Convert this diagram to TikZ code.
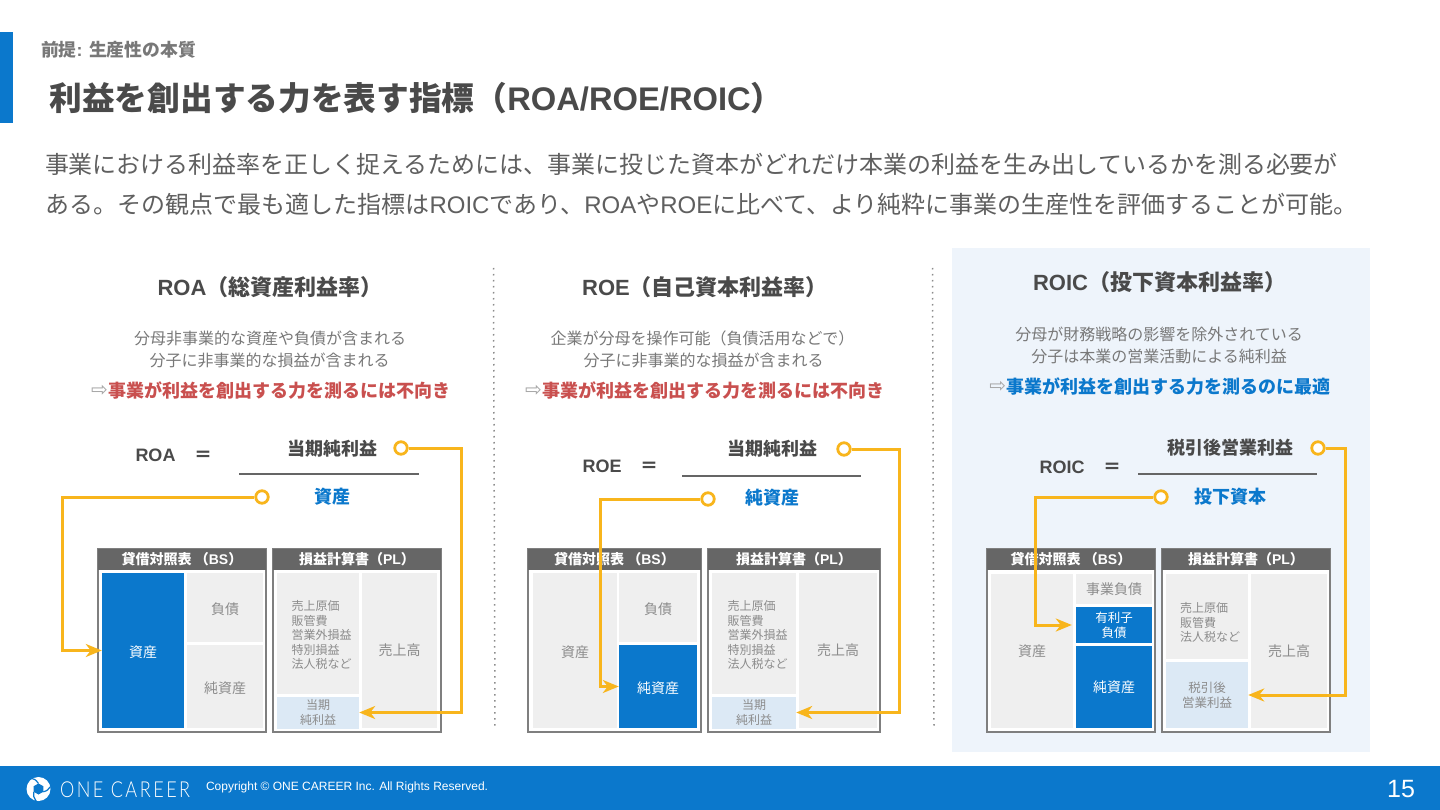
\documentclass[tikz,border=0pt]{standalone}
\usepackage{fontspec}
\usetikzlibrary{arrows.meta}
\setmainfont{Liberation Sans}
\newfontfamily\cjk{Noto Sans CJK JP}
\newfontfamily\arrowfont{DejaVu Sans}
\newfontfamily\logofont[LetterSpace=11.4,FakeStretch=0.82]{Lato Light}
\newfontfamily\copyfont{Liberation Sans}
\newcommand\J[1]{{\cjk #1}}
\newcommand\Lat[1]{{\rmfamily\bfseries #1}}
\newcommand\fs[2]{\fontsize{#1}{#2}\selectfont}
% dx (box widening, moves text right by half), dy (moves text down by half), lines
\newcommand\linesL[3]{\hspace*{#1}\raisebox{0pt}[\dimexpr\height+#2\relax][\depth]{\begin{tabular}{@{}l@{}}#3\end{tabular}}}
\newcommand\linesC[2]{\raisebox{0pt}[\dimexpr\height+#1\relax][\depth]{\begin{tabular}{@{}c@{}}#2\end{tabular}}}
\definecolor{brand}{HTML}{0B78CC}
\definecolor{panelbg}{HTML}{EEF4FB}
\definecolor{darktxt}{HTML}{4A4A4A}
\definecolor{bodytxt}{HTML}{5F5F5F}
\definecolor{subtxt}{HTML}{787878}
\definecolor{celltxt}{HTML}{8C8C8C}
\definecolor{cellbg}{HTML}{EFEFEF}
\definecolor{hlbg}{HTML}{DCE9F5}
\definecolor{hdrbg}{HTML}{666666}
\definecolor{framec}{HTML}{7F7F7F}
\definecolor{conn}{HTML}{F8B51C}
\definecolor{redtxt}{HTML}{C9504F}
\tikzset{
  txt/.style={inner sep=0pt,outer sep=0pt},
  subline/.style={txt,text=subtxt,font=\fs{16}{19}},
  heading/.style={txt,text=darktxt,font=\fs{22}{26}\bfseries},
  verdict/.style={txt,anchor=west,font=\fs{18}{22}\bfseries},
  smallarrow/.style={txt,anchor=east,text=black!35,font=\fs{20}{22}\arrowfont},
  term/.style={txt,text=darktxt,font=\fs{18}{22}\bfseries},
  termblue/.style={txt,text=brand,font=\fs{18}{22}\bfseries},
  fracline/.style={draw=darktxt!85,line width=1.3pt},
  ringnode/.style={circle,draw=conn,line width=2.8pt,minimum size=12.5pt,inner sep=0pt,fill=white},
  connector/.style={draw=conn,line width=3pt,line join=miter,-{Stealth[length=16pt,width=13pt,inset=5pt]}},
  frame/.style={draw=framec,line width=1.3pt,fill=white},
  header/.style={fill=hdrbg,text=white,font=\fs{14}{17}\bfseries,inner sep=0pt},
  cellgray/.style={fill=cellbg,text=celltxt},
  cellblue/.style={fill=brand,text=white},
  celllight/.style={fill=hlbg,text=celltxt},
  sepline/.style={draw=black!45,line width=1.5pt,dash pattern=on 1.5pt off 4.5pt},
}
% name, x1,y1,x2,y2, style, font size, leading, text
\newcommand\cellbox[9]{%
  \pgfmathsetmacro\cw{#4-#2}\pgfmathsetmacro\ch{#5-#3}%
  \pgfmathsetmacro\cx{(#2+#4)/2}\pgfmathsetmacro\cy{(#3+#5)/2}%
  \node[#6,minimum width=\cw pt,minimum height=\ch pt,inner sep=0pt,font=\fs{#7}{#8}] (#1) at (\cx,\cy) {\J{#9}};}
\newcommand\hdrbox[6]{%
  \pgfmathsetmacro\cw{#4-#2}\pgfmathsetmacro\ch{#5-#3}%
  \pgfmathsetmacro\cx{(#2+#4)/2}\pgfmathsetmacro\cy{(#3+#5)/2}%
  \node[header,minimum width=\cw pt,minimum height=\ch pt] (#1) at (\cx,\cy) {\J{#6}};}
\begin{document}
\begin{tikzpicture}[x=1pt,y=-1pt]
\useasboundingbox (0,0) rectangle (1440,810);
\fill[white] (0,0) rectangle (1440,810);
% slide furniture
\fill[brand] (0,32) rectangle (13,123);
\fill[brand] (0,766) rectangle (1440,810);
\fill[panelbg] (952,248) rectangle (1370,752);
\node[txt,anchor=west,text=subtxt,font=\fs{17.8}{20}\bfseries] (kicker) at (41,50) {\J{前提}: \J{生産性の本質}};
\node[txt,anchor=west,text=darktxt,font=\fs{32.7}{38}\bfseries] (title) at (49.5,98) {\J{利益を創出する力を表す指標（}ROA/ROE/ROIC\J{）}};
\node[txt,anchor=west,text=bodytxt,font=\fs{23.97}{28}] (lead1) at (45,164) {\J{事業における利益率を正しく捉えるためには、事業に投じた資本がどれだけ本業の利益を生み出しているかを測る必要が}};
\node[txt,anchor=west,text=bodytxt,font=\fs{24}{28}] (lead2) at (45.5,204) {\J{ある。その観点で最も適した指標は}ROIC\J{であり、}ROA\J{や}ROE\J{に比べて、より純粋に事業の生産性を評価することが可能。}};
% separators
\coordinate (sepAtop) at (493.5,268); \coordinate (sepAbot) at (495,728);
\coordinate (sepBtop) at (932.5,268); \coordinate (sepBbot) at (934,728);
\draw[sepline] (sepAtop) -- (sepAbot);
\draw[sepline] (sepBtop) -- (sepBbot);
% ---------- ROA
\node[heading] (hA) at (270,287) {ROA\J{（総資産利益率）}};
\node[subline] (sA1) at (270,338) {\J{分母非事業的な資産や負債が含まれる}};
\node[subline] (sA2) at (269.5,360) {\J{分子に非事業的な損益が含まれる}};
\node[verdict,text=redtxt] (vA) at (108,391) {\J{事業が利益を創出する力を測るには不向き}};
\node[smallarrow] (aA) at (vA.west) {⇨};
\node[term] (lhsA) at (155.5,455) {ROA};
\node[term] (eqA) at (203,456) {\J{＝}};
\node[term] (numA) at (332,449) {\J{当期純利益}};
\node[termblue] (denA) at (332,497) {\J{資産}};
\coordinate (fAl) at (239,474); \coordinate (fAr) at (419,474);
\draw[fracline] (fAl) -- (fAr);
\node[ringnode] (rA1) at (401,448) {};
\node[ringnode] (rA2) at (262,497) {};
\draw[frame] (98,549) rectangle (266,732);
\draw[frame] (273,549) rectangle (441,732);
\hdrbox{hA1}{98}{549}{266}{570}{貸借対照表 （\Lat{BS}）}
\hdrbox{hA2}{273}{549}{441}{570}{損益計算書（\Lat{PL}）}
\cellbox{cA1}{102}{573}{184}{728}{cellblue}{14}{17}{\linesC{7pt}{資産}}
\cellbox{cA2}{187}{573}{263}{642}{cellgray}{14}{17}{\linesC{7pt}{負債}}
\cellbox{cA3}{187}{645}{263}{728}{cellgray}{14}{17}{\linesC{7pt}{純資産}}
\cellbox{cA4}{277}{573}{359}{694}{cellgray}{12}{14.5}{\linesL{7pt}{7pt}{売上原価\\販管費\\営業外損益\\特別損益\\法人税など}}
\cellbox{cA5}{277}{697}{359}{728}{celllight}{12}{15}{\linesC{2pt}{当期\\純利益}}
\cellbox{cA6}{362}{573}{437}{728}{cellgray}{14}{17}{売上高}
\coordinate (eA1) at (461,448);
\coordinate (eA2) at (62,497);
\draw[connector] (rA1.east) -- (eA1) -- (eA1 |- cA5) -- (cA5.east);
\draw[connector] (rA2.west) -- (eA2) -- (eA2 |- cA1) -- (cA1.west);
% ---------- ROE
\node[heading] (hB) at (705,287) {ROE\J{（自己資本利益率）}};
\node[subline] (sB1) at (702.5,338) {\J{企業が分母を操作可能（負債活用などで）}};
\node[subline] (sB2) at (703.5,360) {\J{分子に非事業的な損益が含まれる}};
\node[verdict,text=redtxt] (vB) at (542,391) {\J{事業が利益を創出する力を測るには不向き}};
\node[smallarrow] (aB) at (vB.west) {⇨};
\node[term] (lhsB) at (602,466) {ROE};
\node[term] (eqB) at (649,467) {\J{＝}};
\node[term] (numB) at (772,449) {\J{当期純利益}};
\node[termblue] (denB) at (772,498) {\J{純資産}};
\coordinate (fBl) at (682,476); \coordinate (fBr) at (861,476);
\draw[fracline] (fBl) -- (fBr);
\node[ringnode] (rB1) at (844,449) {};
\node[ringnode] (rB2) at (708,499) {};
\draw[frame] (528,549) rectangle (701,732);
\draw[frame] (708,549) rectangle (880,732);
\hdrbox{hB1}{528}{549}{701}{570}{貸借対照表 （\Lat{BS}）}
\hdrbox{hB2}{708}{549}{880}{570}{損益計算書（\Lat{PL}）}
\cellbox{cB1}{533}{573}{617}{728}{cellgray}{14}{17}{\linesC{7pt}{資産}}
\cellbox{cB2}{619}{573}{697}{642}{cellgray}{14}{17}{\linesC{7pt}{負債}}
\cellbox{cB3}{619}{645}{697}{728}{cellblue}{14}{17}{\linesC{7pt}{純資産}}
\cellbox{cB4}{712}{573}{796}{694}{cellgray}{12}{14.5}{\linesL{7pt}{7pt}{売上原価\\販管費\\営業外損益\\特別損益\\法人税など}}
\cellbox{cB5}{712}{697}{796}{728}{celllight}{12}{15}{\linesC{2pt}{当期\\純利益}}
\cellbox{cB6}{799}{573}{877}{728}{cellgray}{14}{17}{売上高}
\coordinate (eB1) at (899,449);
\coordinate (eB2) at (600,499);
\draw[connector] (rB1.east) -- (eB1) -- (eB1 |- cB5) -- (cB5.east);
\draw[connector] (rB2.west) -- (eB2) -- (eB2 |- cB3) -- (cB3.west);
% ---------- ROIC
\node[heading] (hC) at (1159.5,282) {ROIC\J{（投下資本利益率）}};
\node[subline] (sC1) at (1159,334) {\J{分母が財務戦略の影響を除外されている}};
\node[subline] (sC2) at (1159,356) {\J{分子は本業の営業活動による純利益}};
\node[verdict,text=brand] (vC) at (1006,387) {\J{事業が利益を創出する力を測るのに最適}};
\node[smallarrow] (aC) at (vC.west) {⇨};
\node[term] (lhsC) at (1062,467) {ROIC};
\node[term] (eqC) at (1112,468) {\J{＝}};
\node[term] (numC) at (1230,448) {\J{税引後営業利益}};
\node[termblue] (denC) at (1230,497) {\J{投下資本}};
\coordinate (fCl) at (1138,474); \coordinate (fCr) at (1317,474);
\draw[fracline] (fCl) -- (fCr);
\node[ringnode] (rC1) at (1318,448) {};
\node[ringnode] (rC2) at (1161,497) {};
\draw[frame] (987,549) rectangle (1155,732);
\draw[frame] (1162,549) rectangle (1330,732);
\hdrbox{hC1}{987}{549}{1155}{570}{貸借対照表 （\Lat{BS}）}
\hdrbox{hC2}{1162}{549}{1330}{570}{損益計算書（\Lat{PL}）}
\cellbox{cC1}{991}{574}{1073}{728}{cellgray}{14}{17}{資産}
\cellbox{cC2}{1076}{574}{1152}{604}{cellgray}{14}{17}{事業負債}
\cellbox{cC3}{1076}{607}{1152}{643}{cellblue}{12.5}{14.5}{\linesC{4pt}{有利子\\負債}}
\cellbox{cC4}{1076}{646}{1152}{728}{cellblue}{14}{17}{純資産}
\cellbox{cC5}{1166}{574}{1248}{659}{cellgray}{12}{14.5}{\linesL{6pt}{16pt}{売上原価\\販管費\\法人税など}}
\cellbox{cC6}{1166}{662}{1248}{728}{celllight}{12.5}{15}{\linesC{4pt}{税引後\\営業利益}}
\cellbox{cC7}{1251}{574}{1327}{728}{cellgray}{14}{17}{売上高}
\coordinate (eC1) at (1345,448);
\coordinate (eC2) at (1035,497);
\draw[connector] (rC1.east) -- (eC1) -- (eC1 |- cC6) -- (cC6.east);
\draw[connector,shorten >=4pt] (rC2.west) -- (eC2) -- (eC2 |- cC3) -- (cC3.west);
% ---------- footer
\fill[white] (38.5,789) circle (12);
\fill[brand] (38.5,783.5) -- (43.3,786.2) -- (43.3,791.8) -- (38.5,794.5) -- (33.7,791.8) -- (33.7,786.2) -- cycle;
\draw[brand,line width=1.2pt] (38.5,783.5) .. controls (36,780) and (34,778.5) .. (32,778.5);
\draw[brand,line width=1.2pt] (43.3,791.8) .. controls (47,791) and (49,789) .. (50,787);
\draw[brand,line width=1.2pt] (33.7,791.8) .. controls (33,795) and (34,798.5) .. (36,801);
\node[txt,anchor=west,text=white,font=\fs{22}{24}\logofont] (logo) at (60,789.5) {ONE CAREER};
\node[txt,anchor=west,text=white,font=\fs{12}{14}\copyfont] (copy) at (206,787.5) {Copyright © ONE CAREER Inc. All Rights Reserved.};
\node[txt,text=white,font=\fs{25}{28}] (page) at (1401,789) {15};
\end{tikzpicture}
\end{document}
